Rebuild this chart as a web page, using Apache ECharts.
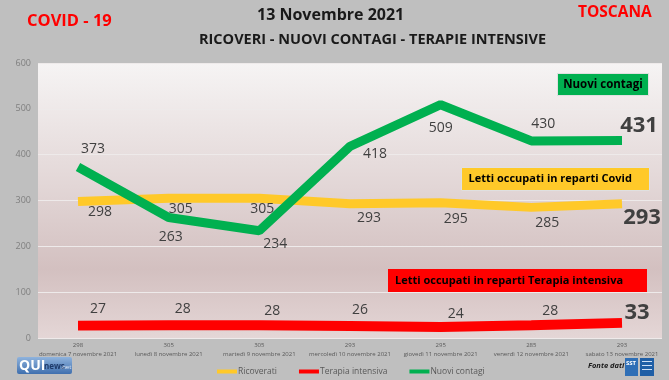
<!DOCTYPE html>
<html><head><meta charset="utf-8">
<script src="https://cdn.jsdelivr.net/npm/echarts@6/dist/echarts.min.js"></script>
<style>html,body{margin:0;padding:0;background:#bfbfbf}#c{width:669px;height:380px}</style>
</head><body><div id="c"></div>
<script>
const dates = ['domenica 7 novembre 2021','lunedì 8 novembre 2021','martedì 9 novembre 2021','mercoledì 10 novembre 2021','giovedì 11 novembre 2021','venerdì 12 novembre 2021','sabato 13 novembre 2021'];
const ricoverati = [298,305,305,293,295,285,293];
const terapia = [27,28,28,26,24,28,33];
const contagi = [373,263,234,418,509,430,431];
const yTicks = [0,100,200,300,400,500,600];

// label offsets (style only)
const offG = [[15,-18],[2,20],[16,13],[25,8],[0,23],[12,-17],[17,-15]];
const offY = [[22,11],[12,11],[3,11],[19,14],[15,16],[16,16],[20,14]];
const offR = [[20,-17],[14,-16],[13,-14],[10,-16],[15,-13],[19,-14],[15,-10]];

function mk(vals, offs){
  return vals.map((v,i)=>({value:v,label:{offset:offs[i],
    fontSize: i===vals.length-1?22:14, fontWeight: i===vals.length-1?'bold':'normal'}}));
}
const FF = '"Open Sans", sans-serif';
const chart = echarts.init(document.getElementById('c'), null, {renderer:'canvas'});
const lbl = {show:true, position:'inside', color:'#404040', fontFamily:FF, fontSize:14};
const TR = 'rgba(0,0,0,0)';
chart.setOption({
  backgroundColor:'#bfbfbf',
  animation:false,
  grid:[
    {left:38,right:7,top:63,bottom:42,show:true,borderWidth:0,
     backgroundColor:{type:'linear',x:0,y:0,x2:0,y2:1,colorStops:[
       {offset:0,color:'#f6f4f4'},{offset:0.45,color:'#e2d6d6'},{offset:0.75,color:'#d3c0c0'},{offset:1,color:'#e4d6d6'}]}},
    {left:78,right:47,top:63,bottom:42}
  ],
  xAxis:[
    {gridIndex:0,type:'value',show:false,min:0,max:1},
    {gridIndex:1,type:'category',data:dates,boundaryGap:false,
     axisLine:{show:false},axisTick:{show:false},
     axisLabel:{margin:3,interval:0,fontFamily:FF,color:'#595959',
       formatter:(v,i)=>'{a|'+ricoverati[i]+'}\n{b|'+v+'}',
       rich:{a:{fontSize:6,color:'#595959',fontFamily:FF,lineHeight:9},b:{fontSize:6,color:'#595959',fontFamily:FF,lineHeight:9}}}}
  ],
  yAxis:[
    {gridIndex:0,type:'value',min:0,max:600,interval:100,
     axisLine:{show:false},axisTick:{show:false},
     axisLabel:{color:'#7f7f7f',fontSize:9,fontFamily:FF,margin:7},
     splitLine:{lineStyle:{color:'#eeeaea',width:1}}},
    {gridIndex:1,type:'value',min:0,max:600,show:false}
  ],
  legend:{left:212,top:362,itemWidth:20,itemHeight:4,itemGap:22,icon:'rect',
    textStyle:{color:'#595959',fontSize:8.5,fontFamily:FF,padding:[0,0,0,-4]},
    data:[{name:'Ricoverati',itemStyle:{color:'#ffc929'}},
          {name:'Terapia intensiva',itemStyle:{color:'#ff0000'}},
          {name:'Nuovi contagi',itemStyle:{color:'#00b050'}}]},
  series:[
    {name:'Ricoverati',type:'line',xAxisIndex:1,yAxisIndex:1,data:mk(ricoverati,offY),
     symbol:'circle',symbolSize:1,itemStyle:{color:TR},
     lineStyle:{color:'#ffc929',width:9},label:lbl,z:2},
    {name:'Terapia intensiva',type:'line',xAxisIndex:1,yAxisIndex:1,data:mk(terapia,offR),
     symbol:'circle',symbolSize:1,itemStyle:{color:TR},
     lineStyle:{color:'#ff0000',width:10},label:lbl,z:2},
    {name:'Nuovi contagi',type:'line',xAxisIndex:1,yAxisIndex:1,data:mk(contagi,offG),
     symbol:'circle',symbolSize:1,itemStyle:{color:TR},
     lineStyle:{color:'#00b050',width:9},label:lbl,z:3}
  ],
  graphic:[
    {type:'text',left:27,top:13,style:{text:'COVID - 19',fill:'#ff0000',font:'bold 16.5px '+FF}},
    {type:'text',left:578,top:5,style:{text:'TOSCANA',fill:'#ff0000',font:'bold 15.5px '+FF}},
    {type:'text',left:257,top:7,style:{text:'13 Novembre 2021',fill:'#1a1a1a',font:'bold 16px '+FF}},
    {type:'text',left:199,top:32,style:{text:'RICOVERI - NUOVI CONTAGI - TERAPIE INTENSIVE',fill:'#1a1a1a',font:'bold 14.5px '+FF}},
    {type:'group',left:557,top:73,children:[
      {type:'rect',shape:{x:0,y:0,width:91,height:22},style:{fill:'#00b050',stroke:'#e0e0e0',lineWidth:1}},
      {type:'text',x:45.5,y:11,style:{text:'Nuovi contagi',fill:'#000',font:'bold 11.5px '+FF,align:'center',verticalAlign:'middle'}}]},
    {type:'group',left:461,top:167,children:[
      {type:'rect',shape:{x:0,y:0,width:188,height:23},style:{fill:'#ffc929',stroke:'#e0e0e0',lineWidth:1}},
      {type:'text',x:7,y:11.5,style:{text:'Letti occupati in reparti Covid',fill:'#000',font:'bold 11px '+FF,verticalAlign:'middle'}}]},
    {type:'group',left:388,top:269,children:[
      {type:'rect',shape:{x:0,y:0,width:259,height:23},style:{fill:'#ff0000'}},
      {type:'text',x:7,y:11.5,style:{text:'Letti occupati in reparti Terapia intensiva',fill:'#000',font:'bold 11px '+FF,verticalAlign:'middle'}}]},
    {type:'group',left:17,top:357,children:[
      {type:'rect',shape:{x:0,y:0,width:55,height:17,r:2},style:{fill:{type:'linear',x:0,y:0,x2:0,y2:1,colorStops:[{offset:0,color:'#8fb3dd'},{offset:1,color:'#3f6fae'}]}}},
      {type:'text',x:2,y:9,style:{text:'QUI',fill:'#fff',font:'bold 14px '+FF,verticalAlign:'middle'}},
      {type:'text',x:27,y:10,style:{text:'news',fill:'#1e3a6a',font:'bold 8px '+FF,verticalAlign:'middle'}},
      {type:'text',x:49,y:10,style:{text:'.net',fill:'#dfe8f5',font:'6px '+FF,verticalAlign:'middle',align:'center'}}]},
    {type:'text',left:588,top:362,style:{text:'Fonte dati',fill:'#1a1a1a',font:'italic bold 7.5px '+FF}},
    {type:'group',left:625,top:358,children:[
      {type:'rect',shape:{x:0,y:0,width:13,height:18},style:{fill:'#2f6fb6'}},
      {type:'text',x:1,y:2,style:{text:'SST',fill:'#fff',font:'bold 6px '+FF}},
      {type:'rect',shape:{x:15,y:0,width:14,height:18},style:{fill:'#1f5fa6'}},
      {type:'rect',shape:{x:17,y:3,width:10,height:1},style:{fill:'#cfe0f5'}},
      {type:'rect',shape:{x:17,y:7,width:10,height:1},style:{fill:'#cfe0f5'}},
      {type:'rect',shape:{x:17,y:11,width:10,height:1},style:{fill:'#cfe0f5'}}]}
  ]
});
</script></body></html>
